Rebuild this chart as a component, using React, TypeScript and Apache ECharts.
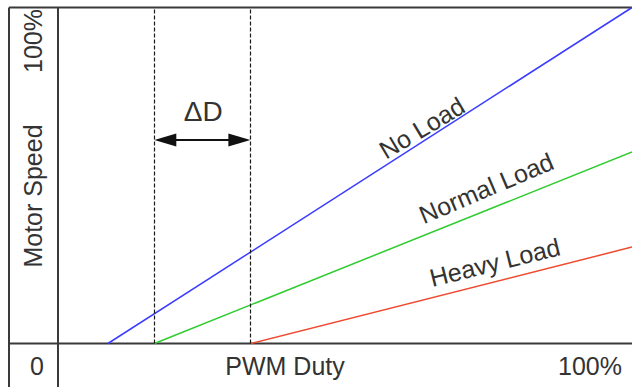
import React, { useEffect, useRef } from "react";
import * as echarts from "echarts";

// ---- data ----
const noLoad: [number, number][] = [[8.7, 0], [100, 100]];
const normalLoad: [number, number][] = [[16.8, 0], [100, 57]];
const heavyLoad: [number, number][] = [[33.6, 0], [100, 28.7]];
const dutyBounds: number[] = [16.8, 33.5];
const deltaLevel = 60.6;
const deltaLabel = "ΔD";
const curveNames: string[] = ["No Load", "Normal Load", "Heavy Load"];
const xTickLabels: string[] = ["0", "PWM Duty", "100%"];
const yTickLabels: string[] = ["Motor Speed", "100%"];

// ---- styling / layout ----
const W = 632;
const H = 387;
const FONT = "Liberation Sans, Arial, Helvetica, sans-serif";
const TXT = "#333333";
const FRAME = "#3a3a3a";
const colors = ["#3c3cff", "#2ecc2e", "#ee4a2e"];
const labelAnchors: { at: [number, number]; angle: number }[] = [
  { at: [63.4, 64.2], angle: 31 },
  { at: [74.6, 46.3], angle: 23 },
  { at: [76.1, 24.2], angle: 14 },
];
const deltaAnchor: [number, number] = [25.3, 68.9];
const arrowInset = 1.9;

function labelPoint(text: string, at: [number, number], angle: number, size = 25) {
  return {
    coord: at,
    symbol: "circle",
    symbolSize: 1,
    itemStyle: { color: "rgba(0,0,0,0)" },
    label: {
      show: true,
      position: "inside",
      formatter: text,
      rotate: angle,
      color: TXT,
      fontSize: size,
      fontFamily: FONT,
      align: "center",
      verticalAlign: "middle",
    },
  };
}

function txt(text: string, x: number, y: number, rotation = 0) {
  return {
    type: "text",
    x,
    y,
    rotation,
    silent: true,
    style: {
      text,
      fill: TXT,
      font: `25px ${FONT}`,
      align: "center",
      verticalAlign: "middle",
      textAlign: "center",
      textVerticalAlign: "middle",
    },
  };
}

function ln(x1: number, y1: number, x2: number, y2: number) {
  return {
    type: "line",
    silent: true,
    shape: { x1, y1, x2, y2 },
    style: { stroke: FRAME, lineWidth: 2 },
  };
}

export default function App() {
  const ref = useRef<HTMLDivElement>(null);
  useEffect(() => {
    document.body.style.margin = "0";
    if (!ref.current) return;
    const chart = echarts.init(ref.current, undefined, { renderer: "svg" });
    const seriesData = [noLoad, normalLoad, heavyLoad];
    const series: any[] = seriesData.map((d, i) => ({
      type: "line",
      name: curveNames[i],
      data: d,
      symbol: "none",
      silent: true,
      lineStyle: { color: colors[i], width: 1.5 },
      markPoint: {
        silent: true,
        data: [labelPoint(curveNames[i], labelAnchors[i].at, labelAnchors[i].angle)],
      },
    }));
    series[0].markLine = {
      silent: true,
      animation: false,
      symbol: ["none", "none"],
      label: { show: false },
      data: [
        ...dutyBounds.map((x) => [
          { coord: [x, 0], lineStyle: { color: "#1a1a1a", width: 1.2, type: [4, 2] } },
          { coord: [x, 100] },
        ]),
        [
          {
            coord: [dutyBounds[0] + arrowInset, deltaLevel],
            symbol: "triangle",
            symbolSize: [13, 22],
            lineStyle: { color: "#111", width: 2, type: "solid" },
            itemStyle: { color: "#111" },
          },
          {
            coord: [dutyBounds[1] - arrowInset, deltaLevel],
            symbol: "triangle",
            symbolSize: [13, 22],
          },
        ],
      ],
    };
    series[0].markPoint.data.push(labelPoint(deltaLabel, deltaAnchor, 0, 28));

    chart.setOption({
      animation: false,
      grid: { left: 58, right: 0, top: 7.5, bottom: H - 343.5, containLabel: false },
      xAxis: {
        type: "value",
        min: 0,
        max: 100,
        axisLine: { show: false },
        axisTick: { show: false },
        axisLabel: { show: false },
        splitLine: { show: false },
      },
      yAxis: {
        type: "value",
        min: 0,
        max: 100,
        axisLine: { show: false },
        axisTick: { show: false },
        axisLabel: { show: false },
        splitLine: { show: false },
      },
      series,
      graphic: [
        ln(9, 7.5, W, 7.5),
        ln(9, 7.5, 9, H),
        ln(58, 7.5, 58, H),
        ln(9, 343.5, W, 343.5),
        txt(yTickLabels[1], 32.5, 41, Math.PI / 2),
        txt(yTickLabels[0], 33, 196, Math.PI / 2),
        txt(xTickLabels[0], 37, 366),
        txt(xTickLabels[1], 285, 366),
        txt(xTickLabels[2], 590, 366),
      ],
    });
    return () => chart.dispose();
  }, []);
  return <div ref={ref} style={{ width: W, height: H }} />;
}
